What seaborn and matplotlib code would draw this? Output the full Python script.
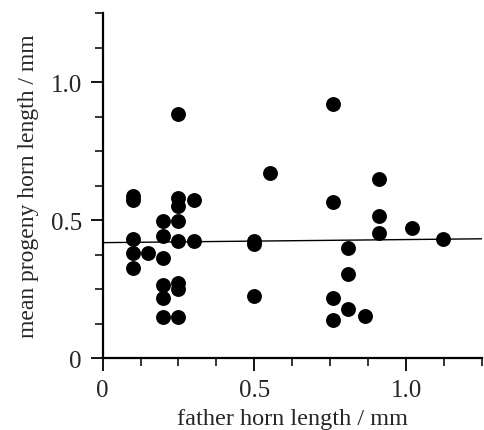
import matplotlib
matplotlib.use("Agg")
import matplotlib.pyplot as plt
import seaborn as sns
import pandas as pd
from matplotlib.ticker import MultipleLocator

# data
father = [0.10, 0.10, 0.10, 0.10, 0.10,
          0.15,
          0.20, 0.20, 0.20, 0.20, 0.20, 0.20,
          0.25, 0.25, 0.25, 0.25, 0.25, 0.25, 0.25, 0.25,
          0.30, 0.30,
          0.50, 0.50, 0.50,
          0.55,
          0.76, 0.76, 0.76, 0.76,
          0.81, 0.81, 0.81,
          0.865,
          0.91, 0.91, 0.91,
          1.02,
          1.12]
progeny = [0.586, 0.571, 0.433, 0.381, 0.325,
           0.381,
           0.496, 0.442, 0.363, 0.264, 0.219, 0.147,
           0.884, 0.580, 0.550, 0.496, 0.424, 0.270, 0.251, 0.147,
           0.574, 0.424,
           0.424, 0.414, 0.226,
           0.670,
           0.920, 0.566, 0.216, 0.138,
           0.400, 0.306, 0.177,
           0.153,
           0.648, 0.516, 0.454,
           0.472,
           0.430]

# fitted line (ends)
line_x = [0.0, 1.25]
line_y = [0.418, 0.432]

df = pd.DataFrame({"father": father, "progeny": progeny})

sns.set_style("ticks")
plt.rcParams["font.family"] = ["Liberation Serif", "DejaVu Serif"]

fig = plt.figure(figsize=(4.84, 4.31), dpi=100)
ax = fig.add_axes([0.212, 0.167, 0.784, 0.8005])

ax.plot(line_x, line_y, color="black", linewidth=1.0, zorder=1)
sns.scatterplot(data=df, x="father", y="progeny", ax=ax, color="black",
                s=115, edgecolor="black", linewidth=0, zorder=2)

ax.set_xlim(0, 1.25)
ax.set_ylim(0, 1.25)
ax.xaxis.set_minor_locator(MultipleLocator(0.125))
ax.yaxis.set_minor_locator(MultipleLocator(0.125))
ax.set_xticks([0, 0.5, 1.0], ["0", "0.5", "1.0"])
ax.set_yticks([0, 0.5, 1.0], ["0", "0.5", "1.0"])

ax.tick_params(which="major", direction="out", length=9, width=1.3,
               labelsize=18, pad=6, color="black")
ax.tick_params(which="minor", direction="out", length=6, width=1.1, color="black")

for s in ["top", "right"]:
    ax.spines[s].set_visible(False)
for s in ["left", "bottom"]:
    ax.spines[s].set_linewidth(1.6)
    ax.spines[s].set_color("black")

ax.set_xlabel("father horn length / mm", fontsize=17.5, labelpad=5)
ax.set_ylabel("mean progeny horn length / mm", fontsize=17, labelpad=8)
ax.yaxis.set_label_coords(-0.168, 0.5)

fig.savefig("out.png", dpi=100)
